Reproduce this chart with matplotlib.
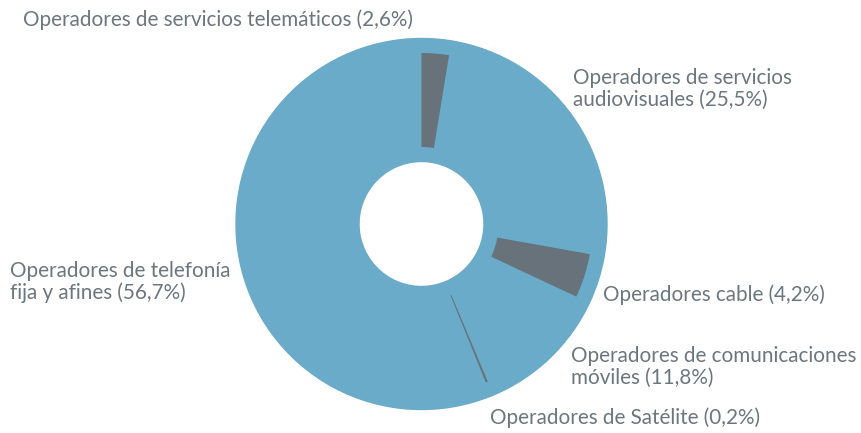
import matplotlib
matplotlib.use("Agg")
import matplotlib.pyplot as plt

# data
categories = [
    "Operadores de servicios telemáticos (2,6%)",
    "Operadores de servicios\naudiovisuales (25,5%)",
    "Operadores cable (4,2%)",
    "Operadores de comunicaciones\nmóviles (11,8%)",
    "Operadores de Satélite (0,2%)",
    "Operadores de telefonía\nfija y afines (56,7%)",
]
shares = [2.6, 25.5, 4.2, 11.8, 0.2, 56.7]
highlight = [True, False, True, False, True, False]

BLUE = "#69abc8"
GREY = "#67727a"
TEXT = "#6b767e"

# label anchor points in pixels (from top-left)
label_pos = [(23, 20), (573, 89), (603, 295), (571, 367), (490, 418), (10, 282)]

W, H = 862, 433
fig = plt.figure(figsize=(W / 100, H / 100), dpi=100)
ax = fig.add_axes([0, 0, 1, 1])

cx, cy = 421.5, H - 224
R_out, R_hole = 186, 62
r_out, r_in = 171, 77

# full blue ring (edge in same colour hides the seams between wedges)
ax.pie(shares, radius=R_out - 0.5, center=(cx, cy), startangle=90, counterclock=False,
       colors=[BLUE] * len(shares),
       wedgeprops=dict(width=R_out - R_hole - 1, linewidth=1, edgecolor=BLUE), frame=True)

# inset grey wedges for highlighted categories
ax.pie(shares, radius=r_out, center=(cx, cy), startangle=90, counterclock=False,
       colors=[GREY if h else "none" for h in highlight],
       wedgeprops=dict(width=r_out - r_in, linewidth=0), frame=True)

ax.set_xlim(0, W)
ax.set_ylim(0, H)
ax.axis("off")

for text, (x, y) in zip(categories, label_pos):
    ax.text(x, H - y, text, ha="left", va="center", fontsize=14.9,
            family="Lato", color=TEXT, linespacing=1.12)

fig.savefig("out.png", dpi=100)
